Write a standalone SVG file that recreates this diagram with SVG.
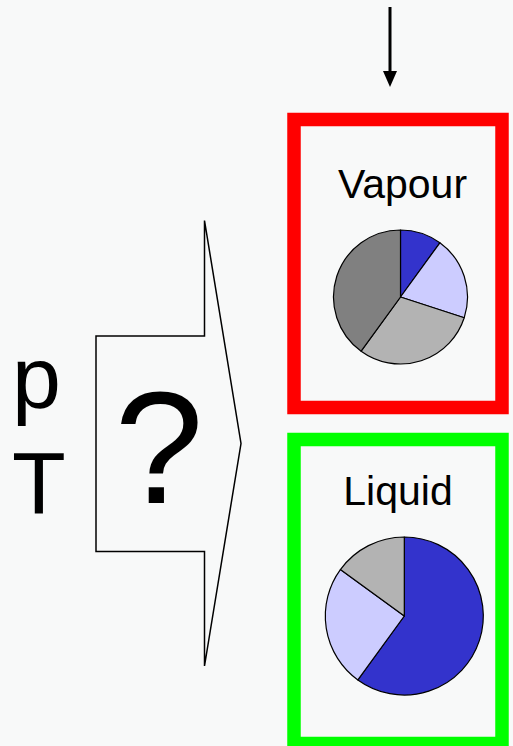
<svg xmlns="http://www.w3.org/2000/svg" width="513" height="746" viewBox="0 0 513 746">
  <style>
    .lbl { font-family: "Liberation Sans", Arial, sans-serif; fill: #000; }
    .slice { stroke: #000; stroke-width: 1.2; stroke-linejoin: round; }
    .blue { fill: #3333CC; }
    .lav { fill: #CCCCFF; }
    .lgray { fill: #B3B3B3; }
    .dgray { fill: #808080; }
  </style>
  <defs>
    <marker id="arrow" markerWidth="14" markerHeight="16" refX="7" refY="16" orient="auto" markerUnits="userSpaceOnUse" viewBox="0 0 14 16">
      <path d="M0,0 L14,0 L7,16 Z" fill="#000"/>
    </marker>
  </defs>
  <rect width="513" height="746" fill="#f8f9f9"/>

  <g id="connectors">
    <line x1="390" y1="7" x2="390" y2="71" stroke="#000" stroke-width="3"/>
    <path d="M383,71 L397,71 L390,87 Z" fill="#000"/>
  </g>

  <g id="pT">
    <text class="lbl" x="12" y="408" font-size="88">p</text>
    <text class="lbl" x="12" y="513" font-size="88">T</text>
  </g>

  <g id="process">
    <polygon points="204.5,220.5 204.5,336 96,336 96,551.5 204.5,551.5 204.5,666 241,443.5" fill="none" stroke="#000" stroke-width="1.5" stroke-linejoin="miter"/>
    <text class="lbl" x="159" y="503" font-size="160" text-anchor="middle">?</text>
  </g>

  <g id="vapour">
    <rect x="294" y="119.5" width="208" height="288" fill="none" stroke="#ff0000" stroke-width="13.5"/>
    <text class="lbl" x="402.5" y="198" font-size="41" text-anchor="middle">Vapour</text>
    <path class="slice blue" d="M400.5,297 L400.5,230 A67,67 0 0 1 439.88,242.8 Z"/>
    <path class="slice lav" d="M400.5,297 L439.88,242.8 A67,67 0 0 1 464.22,317.7 Z"/>
    <path class="slice lgray" d="M400.5,297 L464.22,317.7 A67,67 0 0 1 361.12,351.2 Z"/>
    <path class="slice dgray" d="M400.5,297 L361.12,351.2 A67,67 0 0 1 400.5,230 Z"/>
  </g>

  <g id="liquid">
    <rect x="294" y="439.5" width="208" height="304" fill="none" stroke="#00ff00" stroke-width="13.5"/>
    <text class="lbl" x="398" y="505" font-size="41" text-anchor="middle">Liquid</text>
    <path class="slice blue" d="M404.3,616 L404.3,537 A79,79 0 1 1 357.86,679.91 Z"/>
    <path class="slice lav" d="M404.3,616 L357.86,679.91 A79,79 0 0 1 340.39,569.56 Z"/>
    <path class="slice lgray" d="M404.3,616 L340.39,569.56 A79,79 0 0 1 404.3,537 Z"/>
  </g>
</svg>
